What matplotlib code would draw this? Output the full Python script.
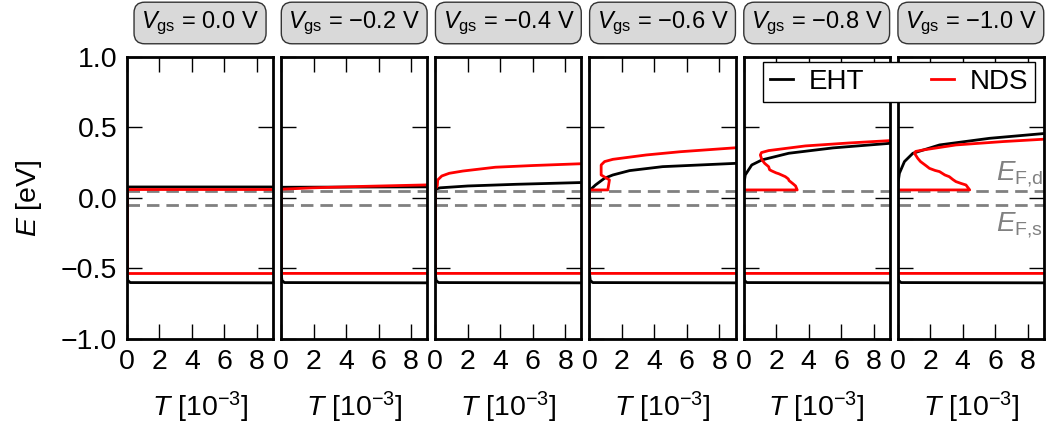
import matplotlib
matplotlib.use("Agg")
import matplotlib.pyplot as plt
from matplotlib.lines import Line2D

plt.rcParams['font.family'] = ['Liberation Sans', 'DejaVu Sans']
plt.rcParams['mathtext.fontset'] = 'custom'
plt.rcParams['mathtext.rm'] = 'Liberation Sans'
plt.rcParams['mathtext.it'] = 'Liberation Sans:italic'
plt.rcParams['mathtext.bf'] = 'Liberation Sans:bold'

# ---------------- data ----------------
vgs_labels = ["0.0", "\u22120.2", "\u22120.4", "\u22120.6", "\u22120.8", "\u22121.0"]

# lower band edges (same in every panel)
eht_low_T = [9.5, 0.2, 0.05, 0.0]
eht_low_E = [-0.602, -0.600, -0.585, -0.535]
nds_low_T = [9.5, 0.0]
nds_low_E = [-0.535, -0.535]

# upper branches, one list per gate voltage
eht_up_T = [
    [0.0, 9.5],
    [0.0, 9.5],
    [0.0, 0.3, 2.0, 5.0, 9.5],
    [0.0, 0.07, 0.37, 0.93, 1.44, 2.47, 4.5, 9.5],
    [0.0, 0.02, 0.1, 0.5, 1.13, 2.78, 5.5, 9.5],
    [0.0, 0.02, 0.1, 0.41, 0.93, 2.57, 5.65, 9.5],
]
eht_up_E = [
    [0.078, 0.078],
    [0.076, 0.079],
    [0.062, 0.072, 0.085, 0.097, 0.111],
    [0.057, 0.060, 0.092, 0.140, 0.163, 0.194, 0.222, 0.248],
    [0.057, 0.100, 0.163, 0.234, 0.270, 0.317, 0.355, 0.392],
    [0.057, 0.110, 0.175, 0.258, 0.317, 0.376, 0.423, 0.462],
]
nds_up_T = [
    [0.0, 9.5],
    [0.0, 2.0, 5.0, 9.5],
    [0.0, 0.12, 0.15, 0.4, 0.86, 1.7, 3.7, 6.0, 9.5],
    [0.0, 1.13, 1.23, 0.72, 0.72, 0.93, 1.44, 3.5, 5.6, 9.5],
    [0.0, 3.3, 3.2, 3.05, 2.8, 2.75, 2.57, 2.16, 2.0, 1.75, 1.6, 1.54, 1.3, 1.13, 1.03, 1.1, 1.54, 3.8, 6.5, 9.5],
    [0.0, 4.43, 4.2, 3.9, 3.58, 3.4, 3.17, 2.9, 2.57, 2.3, 1.95, 1.75, 1.54, 1.4, 1.23, 1.03, 1.1, 1.54, 3.58, 6.5, 9.5],
]
nds_up_E = [
    [0.062, 0.062],
    [0.062, 0.072, 0.082, 0.094],
    [0.062, 0.085, 0.128, 0.156, 0.175, 0.191, 0.218, 0.230, 0.245],
    [0.057, 0.057, 0.128, 0.163, 0.234, 0.258, 0.274, 0.305, 0.328, 0.360],
    [0.057, 0.057, 0.085, 0.100, 0.123, 0.135, 0.151, 0.172, 0.178, 0.191, 0.200, 0.222, 0.245, 0.270, 0.305, 0.322, 0.336, 0.369, 0.390, 0.410],
    [0.057, 0.057, 0.092, 0.103, 0.116, 0.130, 0.151, 0.163, 0.187, 0.195, 0.210, 0.228, 0.246, 0.258, 0.281, 0.317, 0.330, 0.340, 0.376, 0.400, 0.420],
]

E_F_d = 0.05
E_F_s = -0.05

x_ticks = [0, 2, 4, 6, 8]
y_ticks = [-1.0, -0.5, 0.0, 0.5, 1.0]

# ---------------- figure ----------------
fig, axes = plt.subplots(1, 6, figsize=(10.46, 4.25), dpi=100, sharey=True)
fig.subplots_adjust(left=0.1214, right=0.998, top=0.866, bottom=0.2024, wspace=0.055)

fs = 20.5
for i, ax in enumerate(axes):
    ax.axhline(E_F_d, color='#808080', ls=(0, (4.5, 2.5)), lw=2.0, zorder=1)
    ax.axhline(E_F_s, color='#808080', ls=(0, (4.5, 2.5)), lw=2.0, zorder=1)
    ax.plot(eht_low_T + eht_up_T[i], eht_low_E + eht_up_E[i], color='black', lw=2.0, zorder=2.2)
    ax.plot(nds_low_T + nds_up_T[i], nds_low_E + nds_up_E[i], color='#ff0000', lw=2.0, zorder=2.3)
    ax.set_xlim(0, 9)
    ax.set_ylim(-1, 1)
    ax.set_xticks(x_ticks)
    ax.set_yticks(y_ticks)
    ax.set_yticklabels([f"{v:.1f}".replace('-', '\u2212') for v in y_ticks])
    ax.tick_params(direction='in', length=11, width=1.0, top=True, right=True,
                   labelsize=fs, pad=7)
    if i > 0:
        ax.tick_params(labelleft=False)
    for sp in ax.spines.values():
        sp.set_linewidth(2.0)
        sp.set_zorder(3)
    ax.set_xlabel(r"$T$ [10$^{-3}$]", fontsize=fs, labelpad=11)
    ax.set_title(r"$V_{\mathrm{gs}}$ = " + vgs_labels[i] + " V", fontsize=17, pad=21,
                 bbox=dict(boxstyle='round,pad=0.3,rounding_size=0.45', fc='#d9d9d9', ec='#333333', lw=1.0))

axes[0].set_ylabel(r"$E$ [eV]", fontsize=fs, labelpad=12)

axes[5].text(8.95, 0.17, r"$E_{\mathrm{F{,}d}}$", color='#808080', fontsize=20, ha='right', va='center')
axes[5].text(8.95, -0.19, r"$E_{\mathrm{F{,}s}}$", color='#808080', fontsize=20, ha='right', va='center')

handles = [Line2D([], [], color='black', lw=2.0), Line2D([], [], color='#ff0000', lw=2.0)]
leg = fig.legend(handles, ["EHT", "NDS"], ncol=2, loc='upper right',
                 bbox_to_anchor=(1035 / 1046, 1 - 62 / 425), fontsize=20,
                 frameon=True, fancybox=False, edgecolor='black', framealpha=1,
                 handlelength=0.85, handletextpad=0.55, columnspacing=2.4,
                 borderpad=0.25, borderaxespad=0)
leg.get_frame().set_linewidth(1.0)

fig.savefig("out.png", dpi=100)
